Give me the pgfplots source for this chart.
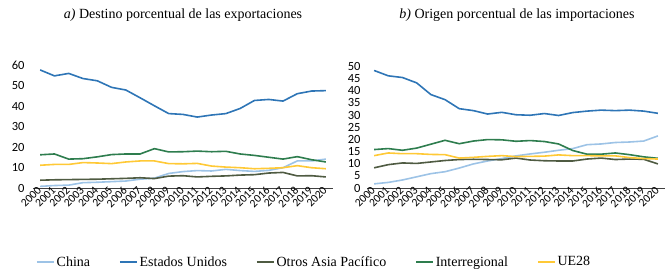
\documentclass[border=0pt]{standalone}
\usepackage{pgfplots}
\pgfplotsset{compat=1.18}
\usepackage{pgfplotstable}
\usepackage{fontspec}
\setmainfont{Liberation Serif}
\newfontfamily\tickfont{Carlito}
\definecolor{cChina}{HTML}{9DC3E6}
\definecolor{cEU}{HTML}{2E75B6}
\definecolor{cOtros}{HTML}{4F5B42}
\definecolor{cInter}{HTML}{2E7D4E}
\definecolor{cUE}{HTML}{FFC936}

\pgfplotstableread{
year China EU Otros Inter UE
2000 0.8 57.6 3.8 16.2 11.1
2001 1.2 54.7 4.0 16.6 11.5
2002 1.4 55.9 4.1 14.1 11.5
2003 2.6 53.4 4.2 14.3 12.4
2004 2.8 52.3 4.3 15.2 12.2
2005 3.1 49.1 4.5 16.3 11.9
2006 3.4 47.8 4.7 16.6 12.7
2007 4.3 44.0 5.0 16.6 13.2
2008 4.8 40.1 4.6 19.2 13.2
2009 7.1 36.3 5.8 17.6 11.9
2010 8.0 35.9 6.0 17.7 11.8
2011 8.5 34.6 5.4 18.0 12.0
2012 8.3 35.6 5.7 17.7 10.7
2013 9.1 36.3 5.9 17.9 10.2
2014 8.5 38.8 6.3 16.6 9.9
2015 8.1 42.7 6.5 15.9 9.4
2016 8.6 43.2 7.3 15.0 9.6
2017 9.9 42.4 7.6 14.1 9.9
2018 13.2 46.0 5.9 15.3 10.9
2019 13.2 47.3 6.0 13.8 9.9
2020 14.1 47.5 5.4 12.7 9.4
}\tabExp

\pgfplotstableread{
year China EU Otros Inter UE
2000 1.7 48.3 8.3 15.8 13.3
2001 2.3 46.1 9.6 16.2 14.4
2002 3.3 45.4 10.3 15.5 14.1
2003 4.6 43.2 10.1 16.4 14.1
2004 5.9 38.4 10.7 18.0 13.8
2005 6.7 36.3 11.3 19.6 13.7
2006 8.2 32.6 11.7 18.2 12.3
2007 9.9 31.8 11.8 19.3 12.6
2008 11.1 30.4 11.7 19.9 13.0
2009 12.1 31.1 11.6 19.8 13.3
2010 13.2 30.1 12.3 19.2 12.9
2011 14.0 29.9 11.5 19.5 13.0
2012 14.7 30.6 11.2 19.1 13.1
2013 15.5 29.8 11.1 18.1 13.6
2014 16.2 31.0 11.1 15.4 13.3
2015 17.8 31.6 11.9 13.9 13.3
2016 18.1 32.0 12.3 13.9 13.2
2017 18.7 31.8 11.7 14.4 13.2
2018 18.9 32.0 11.9 13.7 12.5
2019 19.3 31.6 11.8 12.8 12.1
2020 21.4 30.7 9.9 12.2 11.9
}\tabImp

\begin{document}
\begin{tikzpicture}
\useasboundingbox (0pt,0pt) rectangle (669pt,274pt);
\pgfplotsset{
  common/.style={
    scale only axis,
    axis x line=bottom, axis y line=left,
    y axis line style={draw=none},
    x axis line style={-, draw=black!75, line width=1pt},
    major tick length=0pt,
    xmin=1999.5, xmax=2020.5, ymin=0,
    xtick={2000,...,2020},
    xticklabel style={font=\tickfont\fontsize{11.5}{11.5}\selectfont, rotate=45, anchor=east, inner sep=1pt},
    yticklabel style={font=\tickfont\fontsize{12.5}{12.5}\selectfont},
    /pgf/number format/assume math mode=true,
    /pgf/number format/1000 sep={},
    every axis plot/.append style={line width=1.6pt, no markers},
    clip=false,
  }
}
\begin{axis}[common, at={(33pt,86pt)}, anchor=south west, width=300pt, height=143.5pt,
  ymax=70, ytick={0,10,...,60},
  yticklabel style={xshift=-5pt},
  legend columns=5,
  legend style={at={(axis description cs:0.0,-0.516)}, anchor=west, draw=none, fill=none,
    font=\fontsize{14}{16}\selectfont,
    /tikz/every even column/.append style={column sep=27pt}},
  legend image code/.code={\draw[#1, line width=1.5pt] (0pt,0pt) -- (17pt,0pt);},
]
\addplot[cChina] table[x=year,y=China] {\tabExp};
\addlegendentry{China\hspace{11pt}}
\addplot[cEU] table[x=year,y=EU] {\tabExp};
\addlegendentry{Estados Unidos}
\addplot[cOtros] table[x=year,y=Otros] {\tabExp};
\addlegendentry{Otros Asia Pacífico\hspace{-2pt}}
\addplot[cInter] table[x=year,y=Inter] {\tabExp};
\addlegendentry{Interregional\hspace{9pt}}
\addplot[cUE] table[x=year,y=UE] {\tabExp};
\addlegendentry{UE28}
\end{axis}

\begin{axis}[common, at={(367pt,86pt)}, anchor=south west, width=298pt, height=146pt,
  ymax=60, ytick={0,5,...,50},
  yticklabel style={xshift=-3pt},
]
\addplot[cChina] table[x=year,y=China] {\tabImp};
\addplot[cEU] table[x=year,y=EU] {\tabImp};
\addplot[cOtros] table[x=year,y=Otros] {\tabImp};
\addplot[cInter] table[x=year,y=Inter] {\tabImp};
\addplot[cUE] table[x=year,y=UE] {\tabImp};
\end{axis}

\node[font=\fontsize{14}{16}\selectfont] at (183pt,259pt) {\textit{a)} Destino porcentual de las exportaciones};
\node[font=\fontsize{14}{16}\selectfont] at (517pt,259pt) {\textit{b)} Origen porcentual de las importaciones};
\end{tikzpicture}
\end{document}
